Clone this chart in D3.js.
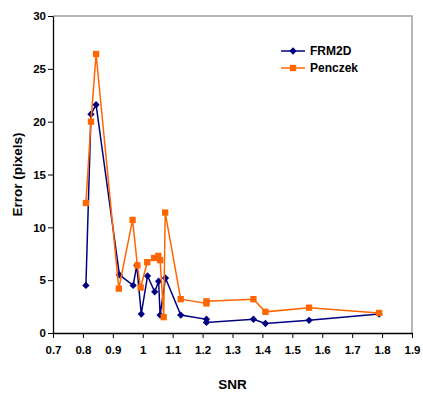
<!DOCTYPE html>
<html>
<head>
<meta charset="utf-8">
<script src="https://cdn.jsdelivr.net/npm/d3@7"></script>
<style>
  body { margin: 0; background: #fff; }
  text { font-family: "Liberation Sans", Arial, sans-serif; font-weight: bold; fill: #000; }
</style>
</head>
<body>
<svg width="423" height="408"></svg>
<script>
// values
var frmSnr = [0.81, 0.827, 0.844, 0.922, 0.968, 0.98, 0.995, 1.016, 1.04, 1.053, 1.058, 1.076, 1.127, 1.213, 1.213, 1.37, 1.41, 1.556, 1.79]
var frmErr = [4.5, 20.7, 21.6, 5.5, 4.5, 6.4, 1.8, 5.4, 3.9, 4.9, 1.7, 5.2, 1.7, 1.3, 1.0, 1.3, 0.9, 1.2, 1.8]

var penSnr = [0.81, 0.827, 0.844, 0.92, 0.966, 0.982, 0.993, 1.015, 1.038, 1.052, 1.058, 1.07, 1.075, 1.127, 1.213, 1.213, 1.37, 1.41, 1.556, 1.79]
var penErr = [12.3, 20.0, 26.4, 4.2, 10.7, 6.4, 4.3, 6.7, 7.1, 7.3, 6.9, 1.5, 11.4, 3.2, 2.8, 3.0, 3.2, 2.0, 2.4, 1.9]

var xTicks = [0.7, 0.8, 0.9, 1, 1.1, 1.2, 1.3, 1.4, 1.5, 1.6, 1.7, 1.8, 1.9]
var yTicks = [0, 5, 10, 15, 20, 25, 30]

var seriesNames = ['FRM2D', 'Penczek']
var seriesColors = ['#000080', '#ff6600']

;(function (d3) {
  var svg = d3.select('svg')

  var left = 53
  var right = 412
  var top = 16
  var bottom = 333

  var x = d3.scaleLinear().domain([0.7, 1.9]).range([left, right])
  var y = d3.scaleLinear().domain([0, 30]).range([bottom, top])

  // plot area frame (top and right)
  svg.append('path')
    .attr('d', 'M' + left + ',' + top + 'H' + right + 'V' + bottom)
    .style('fill', 'none')
    .style('stroke', '#a0a0a0')
    .style('stroke-width', 1.5)

  var xAxis = svg.append('g')
    .attr('transform', 'translate(0,' + bottom + ')')
    .call(d3.axisBottom(x).tickValues(xTicks).tickSize(5).tickSizeOuter(0)
      .tickFormat(function (d) { return d3.format('')(+d.toFixed(1)) }))
  var yAxis = svg.append('g')
    .attr('transform', 'translate(' + left + ',0)')
    .call(d3.axisLeft(y).tickValues(yTicks).tickSize(5).tickSizeOuter(0))

  ;[xAxis, yAxis].forEach(function (g) {
    g.select('.domain').style('stroke', '#000').style('stroke-width', 1.3)
    g.selectAll('.tick line').style('stroke', '#000')
    g.selectAll('text')
      .style('font-family', '"Liberation Sans", Arial, sans-serif')
      .style('font-weight', 'bold')
      .style('font-size', '11.5px')
  })
  xAxis.selectAll('text').attr('dy', '1.1em')
  yAxis.selectAll('text').attr('x', -7)

  svg.append('text')
    .attr('x', (left + right) / 2)
    .attr('y', 389)
    .attr('text-anchor', 'middle')
    .style('font-size', '13.5px')
    .text('SNR')

  svg.append('text')
    .attr('transform', 'translate(22,' + (top + bottom) / 2 + ') rotate(-90)')
    .attr('text-anchor', 'middle')
    .style('font-size', '13.5px')
    .text('Error (pixels)')

  var line = d3.line()
    .x(function (d) { return x(d[0]) })
    .y(function (d) { return y(d[1]) })

  var diamond = d3.symbol().type(d3.symbolDiamond2).size(34)
  var square = d3.symbol().type(d3.symbolSquare).size(40)

  var series = [
    { pts: d3.zip(frmSnr, frmErr), color: seriesColors[0], sym: diamond },
    { pts: d3.zip(penSnr, penErr), color: seriesColors[1], sym: square }
  ]

  series.forEach(function (s) {
    svg.append('path')
      .attr('d', line(s.pts))
      .style('fill', 'none')
      .style('stroke', s.color)
      .style('stroke-width', 1.5)

    svg.append('g').selectAll('path')
      .data(s.pts)
      .enter()
      .append('path')
      .attr('d', s.sym)
      .attr('transform', function (d) { return 'translate(' + x(d[0]) + ',' + y(d[1]) + ')' })
      .style('fill', s.color)
  })

  // legend
  var legend = svg.append('g').attr('transform', 'translate(281,51)')
  series.forEach(function (s, i) {
    var row = legend.append('g').attr('transform', 'translate(0,' + (i * 17) + ')')
    row.append('line')
      .attr('x1', 0).attr('x2', 24)
      .style('stroke', s.color)
      .style('stroke-width', 1.5)
    row.append('path')
      .attr('d', s.sym)
      .attr('transform', 'translate(12,0)')
      .style('fill', s.color)
    row.append('text')
      .attr('x', 29)
      .attr('dy', '0.36em')
      .style('font-size', '12px')
      .text(seriesNames[i])
  })
})(window.d3)
</script>
</body>
</html>
